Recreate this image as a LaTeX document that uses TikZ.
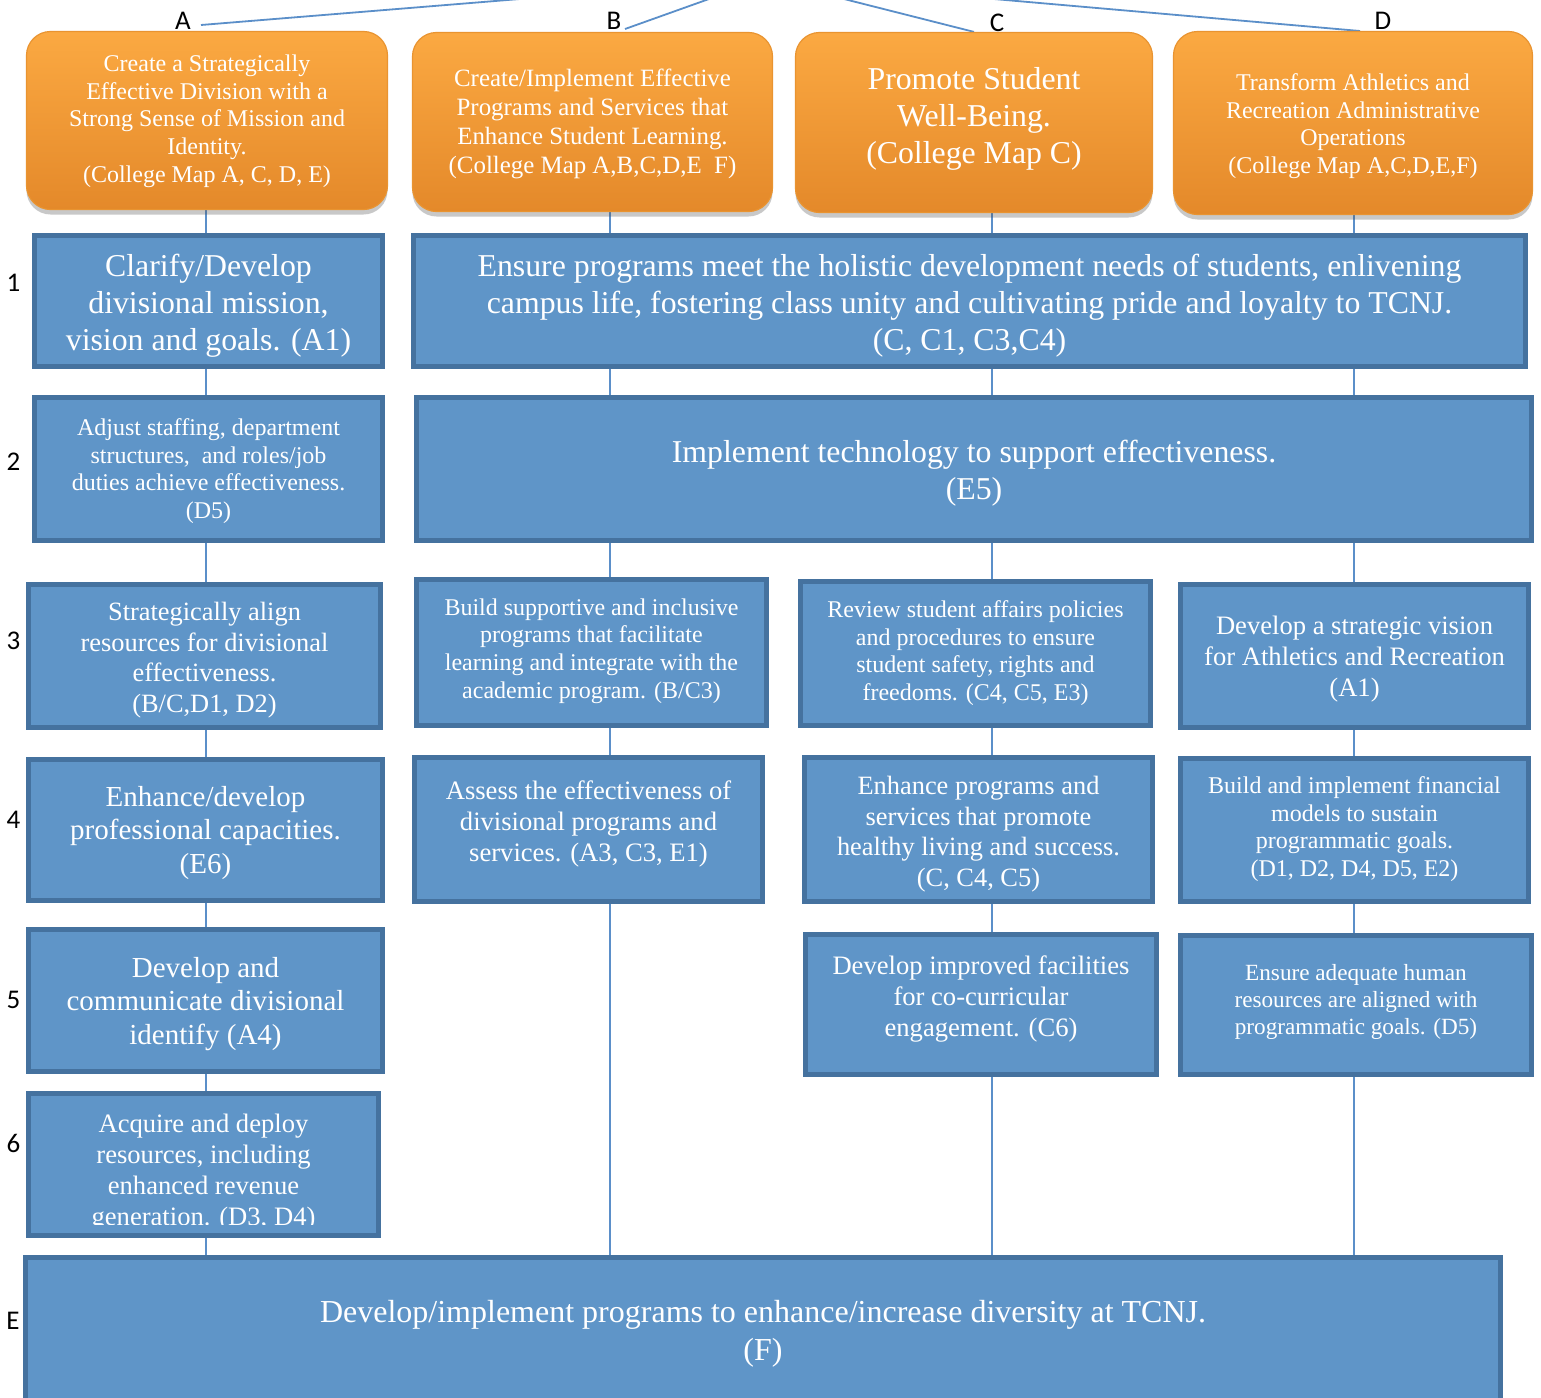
\documentclass[tikz,border=0pt]{standalone}
\usepackage{fontspec}
\setmainfont{Liberation Serif}
\newfontfamily\labelfont{Carlito}
\usetikzlibrary{shadows}
\pgfdeclarelayer{bglayer}
\pgfdeclarelayer{linelayer}
\pgfsetlayers{bglayer,linelayer,main}

\definecolor{boxfill}{HTML}{5F95C8}
\definecolor{boxedge}{HTML}{45729F}
\definecolor{connc}{HTML}{5B8FC9}
\definecolor{orTop}{HTML}{FBA942}
\definecolor{orBot}{HTML}{E4892A}
\definecolor{orEdge}{HTML}{E99431}

\newcommand{\setfs}[2]{\fontsize{#1pt}{#2pt}\selectfont}
% name, x, y, w, h, font style, text y, text
\newcommand{\objbx}[8]{%
  \node[objbox, sz={#4}{#5}] (#1) at (#2,#3) {};
  \node[#6, boxtext] (#1-t) at (#2,#7) {#8};
}
\newcommand{\goalbx}[8]{%
  \node[goalbox, sz={#4}{#5}] (#1) at (#2,#3) {};
  \node[#6, boxtext] (#1-t) at (#2,#7) {#8};
}

\begin{document}
\begin{tikzpicture}[x=0.5pt,y=-0.5pt,
  conn/.style={draw=connc,line width=0.9pt},
  goalbox/.style={rounded corners=12pt, top color=orTop, bottom color=orBot,
    draw=orEdge, line width=0.6pt, inner sep=0pt,
    drop shadow={shadow xshift=0pt, shadow yshift=-2.5pt, opacity=0.3, fill=black!70}},
  objbox/.style={fill=boxfill, draw=boxedge, line width=2.5pt, inner sep=0pt},
  boxtext/.style={text=white, align=center, inner sep=0pt},
  sz/.style 2 args={minimum width=#1*0.5pt, minimum height=#2*0.5pt},
  rowlab/.style={font=\labelfont\fontsize{13.5pt}{15pt}\selectfont, inner sep=0pt},
  fa/.style={font=\setfs{12.0}{13.85}},
  fb/.style={font=\setfs{12.45}{14.5}},
  fc/.style={font=\setfs{15.9}{18.5}},
  fd/.style={font=\setfs{13.2}{15.35}},
  fe/.style={font=\setfs{13.3}{15.5}},
  ff/.style={font=\setfs{14.5}{16.75}},
  fg/.style={font=\setfs{11.6}{13.5}},
  fh/.style={font=\setfs{16}{19}},
]
\path[use as bounding box] (0,0) rectangle (1541,1397);
\clip (0,0) rectangle (1541,1397);
\begin{pgfonlayer}{bglayer}
\fill[white] (0,0) rectangle (1541,1397);
\end{pgfonlayer}

% goal boxes
\goalbx{oa}{207}{120.5}{361}{178}{fa}{121}{Create a Strategically\\Effective Division with a\\Strong Sense of Mission and\\Identity.\\(College Map A, C, D, E)}
\goalbx{ob}{592.5}{122}{360}{179}{fb}{124}{Create/Implement Effective\\Programs and Services that\\Enhance Student Learning.\\(College Map A,B,C,D,E\ \ F)}
\goalbx{oc}{974}{122.5}{357}{180}{fc}{119}{Promote Student\\Well-Being.\\(College Map C)}
\goalbx{od}{1353}{123}{359}{183}{fa}{126}{Transform Athletics and\\Recreation Administrative\\Operations\\(College Map A,C,D,E,F)}

% column labels
\node[rowlab] (la) at (183,20.5) {A};
\node[rowlab] (lb) at (614,21) {B};
\node[rowlab] (lc) at (997,22.5) {C};
\node[rowlab] (ld) at (1383,21) {D};

% row 1
\objbx{a1}{208.5}{301}{348}{131}{fc}{306}{Clarify/Develop\\divisional mission,\\vision and goals. (A1)}
\objbx{n1}{969.5}{301}{1112}{131}{fc}{306}{Ensure programs meet the holistic development needs of students, enlivening\\campus life, fostering class unity and cultivating pride and loyalty to TCNJ.\\(C, C1, C3,C4)}
% row 2
\objbx{a2}{208.5}{469}{348}{143}{fa}{471}{Adjust staffing, department\\structures,\ \ and roles/job\\duties achieve effectiveness.\\(D5)}
\objbx{n2}{974}{469}{1115}{143}{fc}{473}{Implement technology to support effectiveness.\\(E5)}
% row 3
\objbx{a3}{204.5}{656}{352}{143}{fd}{660}{Strategically align\\resources for divisional\\effectiveness.\\(B/C,D1, D2)}
\objbx{b3}{591.5}{652.5}{350}{146}{fa}{651}{Build supportive and inclusive\\programs that facilitate\\learning and integrate with the\\academic program. (B/C3)}
\objbx{c3}{975.5}{653.5}{350}{144}{fa}{653}{Review student affairs policies\\and procedures to ensure\\student safety, rights and\\freedoms. (C4, C5, E3)}
\objbx{d3}{1354.5}{656}{348}{143}{fe}{659}{Develop a strategic vision\\for Athletics and Recreation\\(A1)}
% row 4
\objbx{a4}{205.5}{830}{354}{141}{ff}{833}{Enhance/develop\\professional capacities.\\(E6)}
\objbx{b4}{588.5}{829.5}{348}{144}{fe}{824}{Assess the effectiveness of\\divisional programs and\\services. (A3, C3, E1)}
\objbx{c4}{978.5}{829.5}{348}{144}{fd}{834}{Enhance programs and\\services that promote\\healthy living and success.\\(C, C4, C5)}
\objbx{d4}{1354.5}{830}{348}{143}{fa}{829}{Build and implement financial\\models to sustain\\programmatic goals.\\(D1, D2, D4, D5, E2)}
% row 5
\objbx{a5}{205.5}{1000.5}{354}{142}{ff}{1004}{Develop and\\communicate divisional\\identify (A4)}
\objbx{c5}{981}{1004.5}{351}{140}{fe}{999}{Develop improved facilities\\for co-curricular\\engagement. (C6)}
\objbx{d5}{1356}{1005}{351}{139}{fg}{1002}{Ensure adequate human\\resources are aligned with\\programmatic goals. (D5)}
% row 6 (text cut off by the box, as in the reference)
\node[objbox, sz={350}{142}] (a6) at (203.5,1164.5) {};
\begin{scope}
\clip (a6.north west) rectangle ([yshift=6.75pt]a6.south east);
\node[fe, boxtext] (a6-t) at (203.5,1173) {Acquire and deploy\\resources, including\\enhanced revenue\\generation. (D3, D4)};
\end{scope}
% row E
\objbx{e}{763}{1347.5}{1475}{180}{fh}{1334}{Develop/implement programs to enhance/increase diversity at TCNJ.\\(F)}

% row labels
\node[rowlab] (r1) at (13.5,283) {1};
\node[rowlab] (r2) at (13.5,462) {2};
\node[rowlab] (r3) at (13.5,640.5) {3};
\node[rowlab] (r4) at (13.5,819.5) {4};
\node[rowlab] (r5) at (13.5,1000) {5};
\node[rowlab] (r6) at (13.5,1143) {6};
\node[rowlab] (rE) at (13,1320.5) {E};

% connectors
\coordinate (hub) at (765,-21);
\coordinate (ta) at (201,25);
\coordinate (tb) at (625,29);
\coordinate (td) at (1360,31);
\coordinate (colA) at (206,0);
\coordinate (colB) at (610,0);
\coordinate (colC) at (992,0);
\coordinate (colD) at (1354,0);
\begin{pgfonlayer}{linelayer}
\draw[conn] (hub) -- (ta);
\draw[conn] (hub) -- (tb);
\draw[conn] (hub) -- (oc.north);
\draw[conn] (hub) -- (td);
\draw[conn] (colA |- oa.south) -- (colA |- e.north);
\draw[conn] (colB |- ob.south) -- (colB |- e.north);
\draw[conn] (colC |- oc.south) -- (colC |- e.north);
\draw[conn] (colD |- od.south) -- (colD |- e.north);
\end{pgfonlayer}
\end{tikzpicture}
\end{document}
